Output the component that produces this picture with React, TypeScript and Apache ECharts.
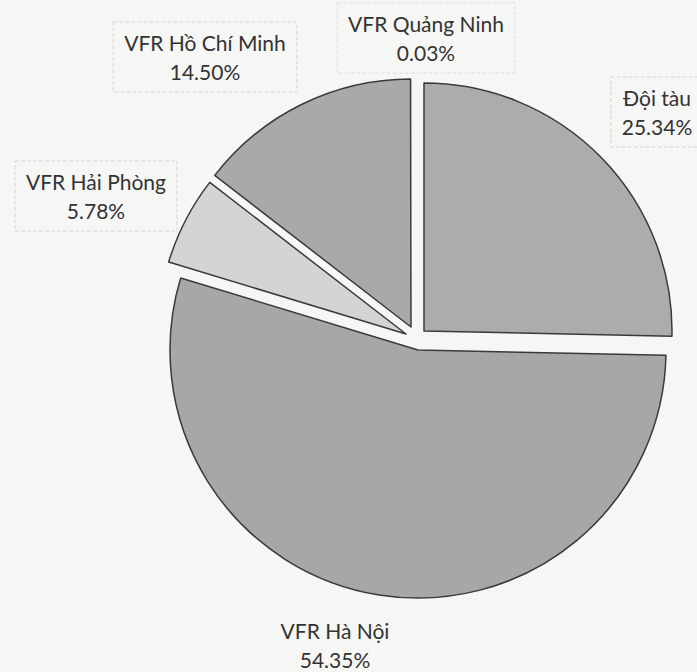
import React, { useEffect, useRef } from "react";
import * as echarts from "echarts";

// ---- data ----
const sliceNames: string[] = ["Đội tàu", "VFR Hà Nội", "VFR Hải Phòng", "VFR Hồ Chí Minh", "VFR Quảng Ninh"];
const sliceShares: number[] = [25.34, 54.35, 5.78, 14.5, 0.03];

// ---- styles / layout (not data) ----
const sliceFill: Record<string, string> = {
  "Đội tàu": "#acacaa",
  "VFR Hà Nội": "#a7a7a5",
  "VFR Hải Phòng": "#d4d4d2",
  "VFR Hồ Chí Minh": "#a9a9a7",
  "VFR Quảng Ninh": "#a9a9a7",
};
// exploded slice centres
const sliceCenter: Record<string, [number, number]> = {
  "Đội tàu": [424, 331],
  "VFR Hà Nội": [418, 350],
  "VFR Hải Phòng": [406, 334],
  "VFR Hồ Chí Minh": [411, 327],
  "VFR Quảng Ninh": [412, 327],
};
const labelAnchor: Record<string, [number, number]> = {
  "Đội tàu": [657, 112],
  "VFR Hà Nội": [335, 645],
  "VFR Hải Phòng": [96, 196],
  "VFR Hồ Chí Minh": [205, 57],
  "VFR Quảng Ninh": [426, 38],
};
const labelBorder: Record<string, string> = {
  "Đội tàu": "#ddd3d1",
  "VFR Hà Nội": "rgba(0,0,0,0)",
  "VFR Hải Phòng": "#ddd3d1",
  "VFR Hồ Chí Minh": "#ddd3d1",
  "VFR Quảng Ninh": "#e4dcda",
};
const RADIUS = 248;

export default function App() {
  const ref = useRef<HTMLDivElement>(null);
  useEffect(() => {
    if (!ref.current) return;
    const chart = echarts.init(ref.current, null, { renderer: "svg" });
    const series = sliceNames.map((focus, i) => ({
      type: "pie",
      name: focus,
      center: sliceCenter[focus],
      radius: RADIUS,
      startAngle: 90,
      clockwise: true,
      silent: true,
      avoidLabelOverlap: false,
      emphasis: { disabled: true },
      label: {
        show: true,
        position: "outside",
        formatter: (p: any) => `${p.name}\n${Number(p.value).toFixed(2)}%`,
        fontFamily: "Lato",
        fontSize: 21,
        lineHeight: 29,
        color: "#333333",
        align: "center",
        borderColor: labelBorder[focus],
        borderType: "dashed",
        borderWidth: 1,
        padding: [6, 11],
      },
      labelLine: { show: false },
      labelLayout: (p: any) => {
        const a = labelAnchor[sliceNames[p.dataIndex]];
        return { x: a[0], y: a[1], align: "center", verticalAlign: "middle" };
      },
      data: sliceNames.map((n, j) => ({
        name: n,
        value: sliceShares[j],
        itemStyle:
          j === i
            ? {
                color: sliceFill[n],
                borderColor: "#3a3a3a",
                borderWidth: n === "VFR Quảng Ninh" ? 0 : 1.5,
              }
            : { color: "rgba(0,0,0,0)", borderWidth: 0 },
        label: { show: j === i },
      })),
    }));
    chart.setOption({
      animation: false,
      backgroundColor: "#f6f6f4",
      series,
    });
    return () => chart.dispose();
  }, []);
  return (
    <div
      ref={ref}
      style={{ position: "fixed", left: 0, top: 0, width: 697, height: 672 }}
    />
  );
}
